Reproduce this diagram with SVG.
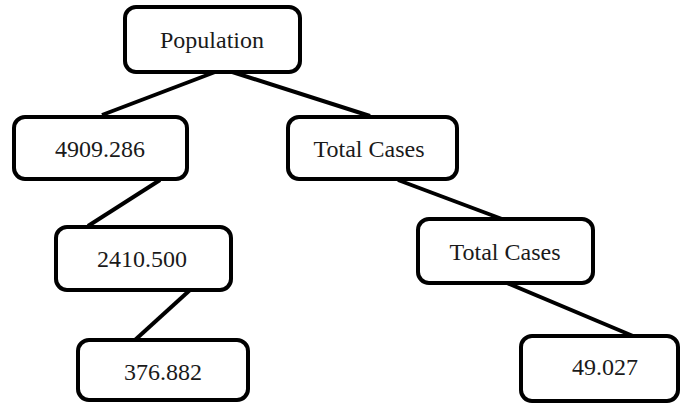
<svg xmlns="http://www.w3.org/2000/svg" width="684" height="405" viewBox="0 0 684 405">
<style>
.box{fill:#fff;stroke:#000;stroke-width:4}
.lbl{font-family:'Liberation Serif','DejaVu Serif',serif;font-size:24px;fill:#1a1a1a;text-anchor:middle}
.edge{stroke:#000;stroke-width:4;fill:none}
</style>
<rect width="684" height="405" fill="#fff"/>
<g id="connectors">
<line class="edge" x1="223" y1="69" x2="102" y2="115"/>
<line class="edge" x1="223" y1="69" x2="370" y2="116"/>
<line class="edge" x1="160" y1="180" x2="88" y2="226"/>
<line class="edge" x1="190" y1="290" x2="135" y2="340"/>
<line class="edge" x1="398" y1="180" x2="502" y2="219"/>
<line class="edge" x1="507" y1="283" x2="633" y2="336"/>
</g>
<g id="n-population"><rect class="box" x="125" y="7" width="175" height="65" rx="11"/><text class="lbl" x="212" y="48">Population</text></g>
<g id="n-4909"><rect class="box" x="14" y="117" width="173" height="62" rx="11"/><text class="lbl" x="100" y="157">4909.286</text></g>
<g id="n-total1"><rect class="box" x="288" y="117" width="169" height="62" rx="11"/><text class="lbl" x="369" y="157">Total Cases</text></g>
<g id="n-2410"><rect class="box" x="56" y="227" width="175" height="63" rx="11"/><text class="lbl" x="142" y="267">2410.500</text></g>
<g id="n-total2"><rect class="box" x="418" y="219" width="175" height="64" rx="11"/><text class="lbl" x="505" y="260">Total Cases</text></g>
<g id="n-376"><rect class="box" x="78" y="340" width="170" height="60" rx="11"/><text class="lbl" x="163" y="380">376.882</text></g>
<g id="n-49"><rect class="box" x="521" y="336" width="157" height="65" rx="11"/><text class="lbl" x="605" y="375">49.027</text></g>
</svg>
